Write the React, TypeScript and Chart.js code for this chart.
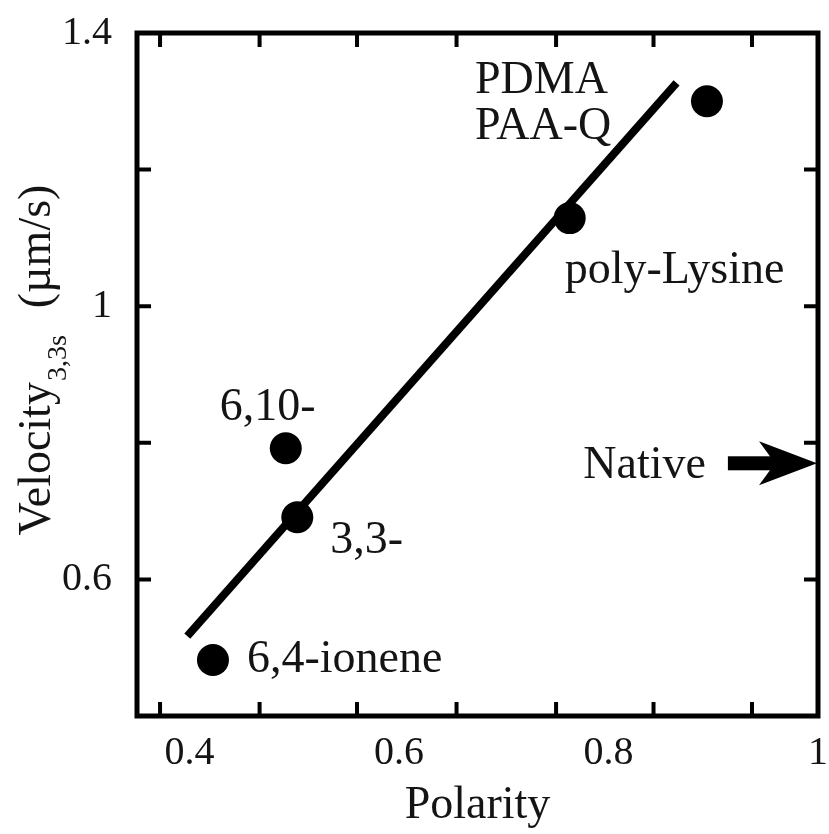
import React, { useEffect, useRef } from 'react';
import { Chart, registerables } from 'chart.js';

Chart.register(...registerables);

// ---- data ----
const pointLabels: string[][] = [['6,4-ionene'], ['6,10-'], ['3,3-'], ['poly-Lysine'], ['PDMA', 'PAA-Q']];
const polarity = [0.4225, 0.492, 0.503, 0.763, 0.894];
const velocity = [0.482, 0.792, 0.691, 1.129, 1.3];
const fitPolarity = [0.398, 0.865];
const fitVelocity = [0.517, 1.327];
const nativeLabel = 'Native';
const nativeVelocity = 0.77;
const nativeArrowPolarity = [0.914, 1.0];
const xTickLabels = [0.4, 0.6, 0.8, 1.0];
const yTickLabels = [0.6, 1.0, 1.4];
const xTickMarks = [0.372, 0.467, 0.56, 0.655, 0.75, 0.843, 0.937];
const yTickMarks = [0.6, 0.8, 1.0, 1.2];
const xTitle = 'Polarity';
const yTitleMain = 'Velocity';
const yTitleSub = '3,3s';
const yTitleUnit = '(µm/s)';

// ---- layout / style (pixels) ----
const SERIF = "'Liberation Serif', 'Times New Roman', Times, serif";
const INK = '#141414';
const labelOffsets = [
  { dx: 34, dy: 12 },
  { dx: -66, dy: -28 },
  { dx: 33, dy: 36 },
  { dx: -5, dy: 65 },
  { dx: -232, dy: -8 },
];
const labelLineGap = 46;
const fmt = (v: number) => (v === 1 ? '1' : v.toFixed(1));

const decorPlugin = {
  id: 'decor',
  afterDraw(chart: any) {
    const { ctx, chartArea: a, scales } = chart;
    const xs = scales.x;
    const ys = scales.y;
    ctx.save();
    // frame
    ctx.strokeStyle = '#000';
    ctx.lineWidth = 5;
    ctx.lineJoin = 'miter';
    ctx.strokeRect(a.left, a.top, a.right - a.left, a.bottom - a.top);
    // inward tick marks
    const tl = 14;
    ctx.lineWidth = 4;
    ctx.beginPath();
    xTickMarks.forEach((v) => {
      const px = xs.getPixelForValue(v);
      ctx.moveTo(px, a.bottom);
      ctx.lineTo(px, a.bottom - tl);
      ctx.moveTo(px, a.top);
      ctx.lineTo(px, a.top + tl);
    });
    yTickMarks.forEach((v) => {
      const py = ys.getPixelForValue(v);
      ctx.moveTo(a.left, py);
      ctx.lineTo(a.left + tl, py);
      ctx.moveTo(a.right, py);
      ctx.lineTo(a.right - tl, py);
    });
    ctx.stroke();

    // x tick labels
    ctx.fillStyle = INK;
    ctx.font = `40px ${SERIF}`;
    ctx.textAlign = 'center';
    ctx.textBaseline = 'alphabetic';
    xTickLabels.forEach((v) => {
      ctx.fillText(fmt(v), xs.getPixelForValue(v), a.bottom + 48);
    });

    // point labels
    ctx.font = `46px ${SERIF}`;
    ctx.textAlign = 'left';
    pointLabels.forEach((lines, i) => {
      const px = xs.getPixelForValue(polarity[i]);
      const py = ys.getPixelForValue(velocity[i]);
      const o = labelOffsets[i];
      lines.forEach((t, k) => {
        ctx.fillText(t, px + o.dx, py + o.dy + k * labelLineGap);
      });
    });

    // Native arrow
    const ny = ys.getPixelForValue(nativeVelocity);
    const x0 = xs.getPixelForValue(nativeArrowPolarity[0]);
    const x1 = xs.getPixelForValue(nativeArrowPolarity[1]) - 1;
    ctx.fillStyle = '#000';
    ctx.fillRect(x0, ny - 7, x1 - x0 - 30, 14);
    ctx.beginPath();
    ctx.moveTo(x1, ny);
    ctx.lineTo(x1 - 58, ny - 22);
    ctx.lineTo(x1 - 42, ny);
    ctx.lineTo(x1 - 58, ny + 22);
    ctx.closePath();
    ctx.fill();
    ctx.fillStyle = INK;
    ctx.font = `46px ${SERIF}`;
    ctx.textAlign = 'right';
    ctx.fillText(nativeLabel, x0 - 22, ny + 15);

    // y title with subscript
    ctx.save();
    ctx.translate(50, 360);
    ctx.rotate(-Math.PI / 2);
    ctx.textAlign = 'left';
    ctx.font = `46px ${SERIF}`;
    const w1 = ctx.measureText(yTitleMain).width;
    const w3 = ctx.measureText(yTitleUnit).width;
    ctx.font = `28px ${SERIF}`;
    const w2 = ctx.measureText(yTitleSub).width;
    const gap = 28;
    const total = w1 + w2 + gap + w3;
    let s = -total / 2;
    ctx.font = `46px ${SERIF}`;
    ctx.fillText(yTitleMain, s, 0);
    s += w1;
    ctx.font = `28px ${SERIF}`;
    ctx.fillText(yTitleSub, s + 1, 16);
    s += w2 + gap;
    ctx.font = `46px ${SERIF}`;
    ctx.fillText(yTitleUnit, s, 0);
    ctx.restore();

    ctx.restore();
  },
};

export default function App() {
  const ref = useRef<HTMLCanvasElement | null>(null);
  useEffect(() => {
    if (!ref.current) return;
    const chart = new Chart(ref.current, {
      type: 'scatter',
      data: {
        datasets: [
          {
            type: 'line',
            data: fitPolarity.map((x, i) => ({ x, y: fitVelocity[i] })),
            borderColor: '#000',
            borderWidth: 8,
            borderCapStyle: 'butt',
            pointRadius: 0,
            showLine: true,
            fill: false,
          } as any,
          {
            data: polarity.map((x, i) => ({ x, y: velocity[i] })),
            pointRadius: 16,
            pointBackgroundColor: '#000',
            pointBorderWidth: 0,
            backgroundColor: '#000',
            borderColor: '#000',
          },
        ],
      },
      options: {
        responsive: false,
        animation: false,
        events: [],
        layout: { autoPadding: false, padding: { top: 33, right: 11, left: 0, bottom: 0 } },
        plugins: { legend: { display: false }, tooltip: { enabled: false } },
        scales: {
          x: {
            type: 'linear',
            min: 0.35,
            max: 1.0,
            grid: { display: false, drawTicks: false },
            border: { display: false },
            afterBuildTicks: (s: any) => {
              s.ticks = xTickLabels.map((v) => ({ value: v }));
            },
            afterFit: (s: any) => {
              s.height = 118;
              s.paddingLeft = 0;
              s.paddingRight = 0;
            },
            ticks: { display: false },
            title: {
              display: true,
              text: xTitle,
              color: INK,
              font: { family: SERIF, size: 46 },
              padding: { top: 0, bottom: 0 },
            },
          },
          y: {
            type: 'linear',
            min: 0.4,
            max: 1.4,
            grid: { display: false, drawTicks: false },
            border: { display: false },
            afterBuildTicks: (s: any) => {
              s.ticks = yTickLabels.map((v) => ({ value: v }));
            },
            afterFit: (s: any) => {
              s.width = 137;
              s.paddingTop = 0;
              s.paddingBottom = 0;
            },
            ticks: {
              padding: 25,
              color: INK,
              font: { family: SERIF, size: 40 },
              callback: (v: any) => fmt(Number(v)),
            },
          },
        },
      },
      plugins: [decorPlugin],
    });
    return () => chart.destroy();
  }, []);
  return (
    <div style={{ position: 'fixed', left: 0, top: 0, width: 829, height: 834, background: '#fff' }}>
      <canvas ref={ref} width={829} height={834} />
    </div>
  );
}
